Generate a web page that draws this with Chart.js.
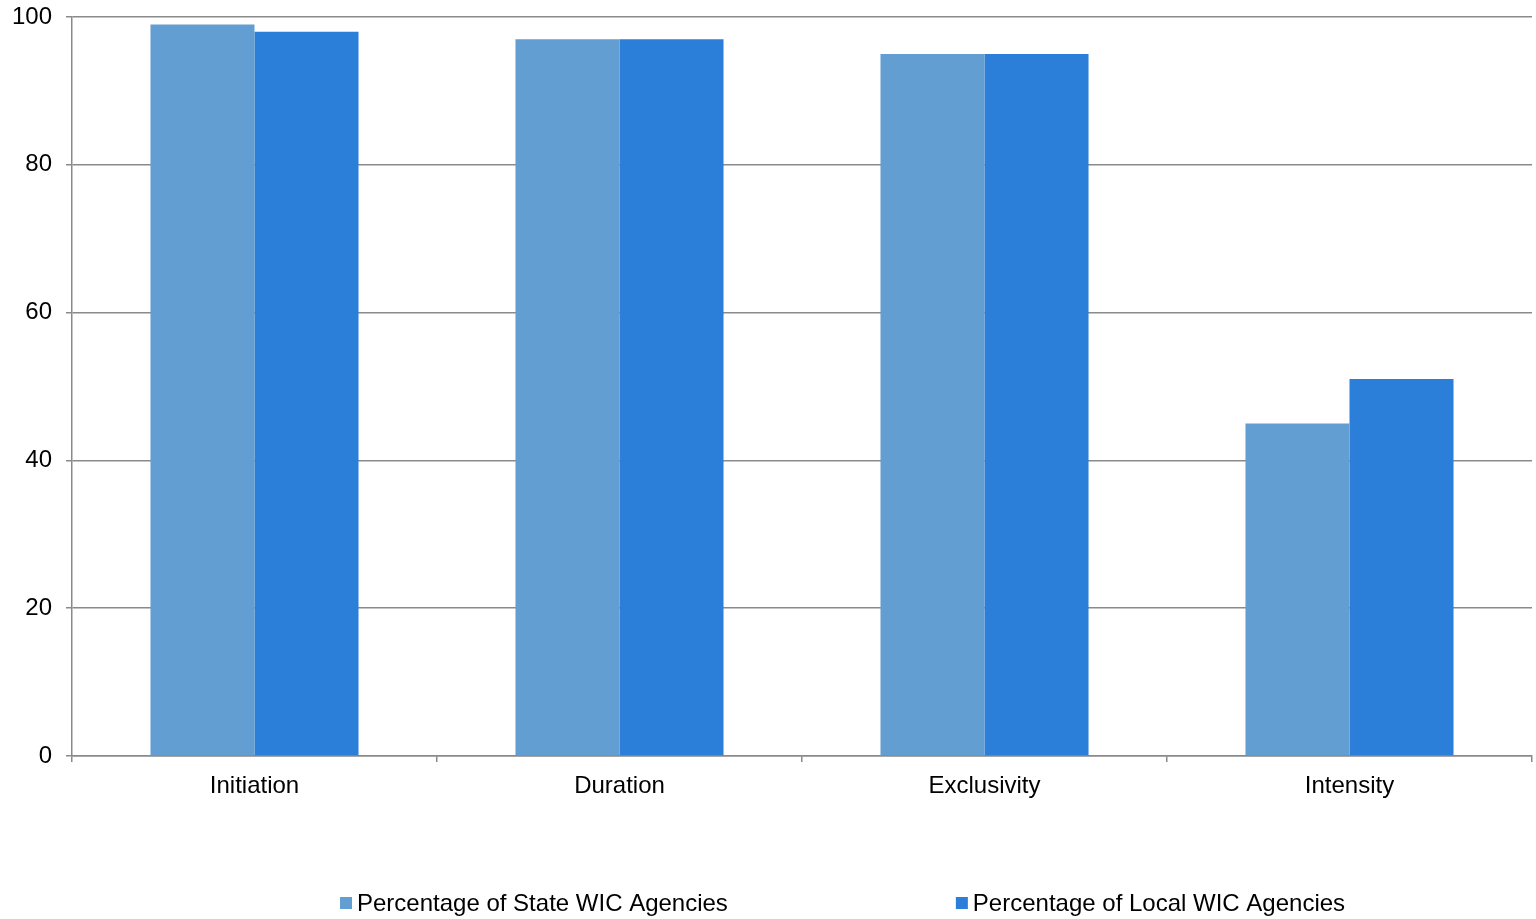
<!DOCTYPE html>
<html>
<head>
<meta charset="utf-8">
<script src="https://cdn.jsdelivr.net/npm/chart.js@4/dist/chart.umd.min.js"></script>
<style>
  html, body { margin: 0; padding: 0; background: #fff; }
  #wrap { width: 1536px; height: 919px; position: relative; }
</style>
</head>
<body>
<div id="wrap"><canvas id="myChart"></canvas></div>
<script>
// chart values
const categories = ['Initiation', 'Duration', 'Exclusivity', 'Intensity'];
const stateAgencies = [99, 97, 95, 45];
const localAgencies = [98, 97, 95, 51];
const seriesLabels = ['Percentage of State WIC Agencies', 'Percentage of Local WIC Agencies'];
const yTicks = [0, 20, 40, 60, 80, 100];

const FONT = '"Liberation Sans", Arial, sans-serif';
const FONT_SIZE = 24;
const gridColor = '#8a8a8a';

// legend drawn by hand so the wide gap between the items can be matched
const bottomLegend = {
  id: 'bottomLegend',
  afterDraw: function (chart) {
    const ctx = chart.ctx;
    const y = chart.height - 16;
    let x = 340;
    ctx.save();
    ctx.font = FONT_SIZE + 'px ' + FONT;
    ctx.textBaseline = 'middle';
    chart.data.datasets.forEach(ds => {
      ctx.fillStyle = ds.backgroundColor;
      ctx.fillRect(x, y - 6, 12, 12);
      ctx.fillStyle = '#000';
      ctx.fillText(ds.label, x + 17, y + 1);
      x += 17 + ctx.measureText(ds.label).width + 228;
    });
    ctx.restore();
  }
};

new Chart(document.getElementById('myChart'), {
  type: 'bar',
  data: {
    labels: categories,
    datasets: [
      { label: seriesLabels[0], data: stateAgencies, backgroundColor: '#629ED1' },
      { label: seriesLabels[1], data: localAgencies, backgroundColor: '#2B7FD9' }
    ]
  },
  options: {
    responsive: true,
    maintainAspectRatio: false,
    animation: false,
    datasets: { bar: { barPercentage: 1, categoryPercentage: 0.57 } },
    layout: { padding: { top: 17, right: 4, left: 0, bottom: 119 } },
    plugins: {
      legend: { display: false },
      tooltip: { enabled: false }
    },
    scales: {
      x: {
        afterFit: function (scale) { scale.height = 44; scale.paddingLeft = 0; scale.paddingRight = 0; },
        grid: { offset: true, drawOnChartArea: false, color: gridColor, lineWidth: 1.5, tickLength: 6 },
        border: { color: gridColor, width: 1.5 },
        ticks: { color: '#000', font: { family: FONT, size: FONT_SIZE }, padding: 10 }
      },
      y: {
        min: 0,
        max: 100,
        afterBuildTicks: function (scale) {
          scale.ticks = yTicks.map(v => ({ value: v }));
        },
        afterFit: function (scale) {
          scale.width = 72;
          scale.paddingTop = 0;
          scale.paddingBottom = 0;
        },
        grid: { color: gridColor, lineWidth: 1.5, tickLength: 6 },
        border: { color: gridColor, width: 1.5 },
        ticks: { color: '#000', font: { family: FONT, size: FONT_SIZE }, padding: 14 }
      }
    }
  },
  plugins: [bottomLegend]
});
</script>
</body>
</html>
